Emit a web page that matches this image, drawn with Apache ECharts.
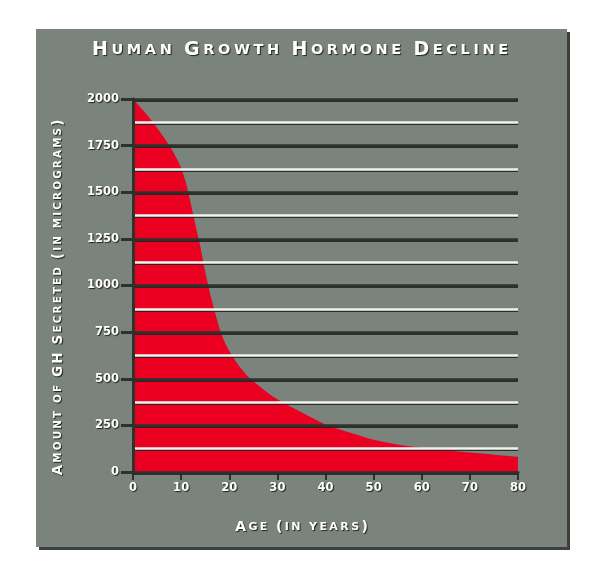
<!DOCTYPE html>
<html>
<head>
<meta charset="utf-8">
<script src="https://cdn.jsdelivr.net/npm/echarts@6/dist/echarts.min.js"></script>
<style>
  html, body { margin: 0; padding: 0; background: #fff; }
  #chart { width: 600px; height: 581px; }
</style>
</head>
<body>
<div id="chart"></div>
<script>
var titleText = 'Human Growth Hormone Decline';
var xName = 'Age (in years)';
var yName = 'Amount of GH Secreted (in micrograms)';

var ages = [0, 2, 4, 6, 8, 9, 10, 11, 12, 13, 14, 15, 16, 17, 18, 19, 20, 22, 24, 28, 30, 35, 40, 45, 50, 55, 60, 65, 70, 75, 80];
var ghLevels = [2000, 1942, 1880, 1810, 1732, 1685, 1630, 1550, 1440, 1323, 1208, 1075, 960, 860, 768, 700, 650, 570, 510, 425, 390, 320, 255, 212, 173, 148, 130, 116, 104, 93, 82];

var xTicks = [0, 10, 20, 30, 40, 50, 60, 70, 80];
var yTicks = [0, 250, 500, 750, 1000, 1250, 1500, 1750, 2000];

var shadow = { textShadowColor: 'rgba(0,0,0,0.75)', textShadowBlur: 1, textShadowOffsetX: 1, textShadowOffsetY: 1 };

// fake small caps: capitals big, lower case letters upper-cased and smaller
function smallCaps(str) {
    var out = '';
    for (var i = 0; i < str.length; i++) {
        var c = str[i];
        if (c === ' ') out += '{sp| }';
        else if (c.toLowerCase() === c && c.toUpperCase() !== c) out += '{s|' + c.toUpperCase() + '}';
        else out += '{b|' + c + '}';
    }
    return out;
}
function capsRich(big, small, pad) {
    var base = Object.assign({ color: '#fff', fill: '#fff', fontFamily: 'DejaVu Sans', fontWeight: 'bold', padding: [0, pad, 0, pad] }, shadow);
    return {
        b: Object.assign({}, base, { fontSize: big }),
        s: Object.assign({}, base, { fontSize: small }),
        sp: Object.assign({}, base, { fontSize: small })
    };
}

var pairs = ages.map(function (a, i) { return [a, ghLevels[i]]; });

var chart = echarts.init(document.getElementById('chart'));
chart.setOption({
    backgroundColor: '#ffffff',
    animation: false,
    graphic: [
        { type: 'rect', z: -10, shape: { x: 39, y: 32, width: 531, height: 518 }, style: { fill: '#3c403b' } },
        { type: 'rect', z: -9, shape: { x: 36, y: 29, width: 531, height: 518 }, style: { fill: '#7b847c' } },
        {
            type: 'text', z: 10, left: 'center', top: 41,
            style: { text: smallCaps(titleText), fill: '#fff', rich: capsRich(19, 14.5, 1.8) }
        }
    ],
    grid: { left: 133, right: 82, top: 99, bottom: 109, outerBoundsMode: 'none' },
    xAxis: {
        type: 'value',
        min: xTicks[0],
        max: xTicks[xTicks.length - 1],
        interval: xTicks[1] - xTicks[0],
        name: smallCaps(xName),
        nameLocation: 'middle',
        nameGap: 48,
        nameTextStyle: { rich: capsRich(14, 11, 1.2), padding: [0, 48, 0, 0] },
        axisLine: { show: true, lineStyle: { color: '#2e322d', width: 3 } },
        axisTick: { show: true, length: 8, lineStyle: { color: '#2e322d', width: 2 } },
        axisLabel: Object.assign({ color: '#fff', fontFamily: 'DejaVu Sans', fontWeight: 'bold', fontSize: 11.5, margin: 10 }, shadow),
        splitLine: { show: false }
    },
    yAxis: [
        {
            type: 'value',
            position: 'left',
            min: 0,
            max: 2000,
            interval: 125,
            z: 3,
            axisLine: { show: true, lineStyle: { color: '#2e322d', width: 3 } },
            axisTick: { show: false },
            axisLabel: { show: false },
            splitLine: {
                show: true,
                lineStyle: { color: ['#2e322d', '#f2f2ee'], width: 2.5, shadowColor: 'rgba(30,33,30,0.85)', shadowOffsetY: 1.2, shadowBlur: 0 }
            }
        },
        {
            type: 'value',
            position: 'left',
            offset: 0,
            min: yTicks[0],
            max: yTicks[yTicks.length - 1],
            interval: yTicks[1] - yTicks[0],
            z: 3,
            name: smallCaps(yName),
            nameLocation: 'middle',
            nameRotate: 90,
            nameGap: 68,
            nameTextStyle: { rich: capsRich(13.5, 10.3, 1.1), padding: [0, 24, 0, 0] },
            axisLine: { show: false },
            axisTick: { show: true, length: 12, lineStyle: { color: '#2e322d', width: 3 } },
            axisLabel: Object.assign({
                color: '#fff', fontFamily: 'DejaVu Sans', fontWeight: 'bold', fontSize: 11.5, margin: 14,
                formatter: function (v) { return String(v); }
            }, shadow),
            splitLine: { show: false }
        }
    ],
    series: [{
        type: 'line',
        data: pairs,
        z: 1,
        yAxisIndex: 0,
        smooth: 0.3,
        showSymbol: false,
        lineStyle: { width: 0 },
        areaStyle: { color: '#ec0022', opacity: 1 }
    }]
});
</script>
</body>
</html>
